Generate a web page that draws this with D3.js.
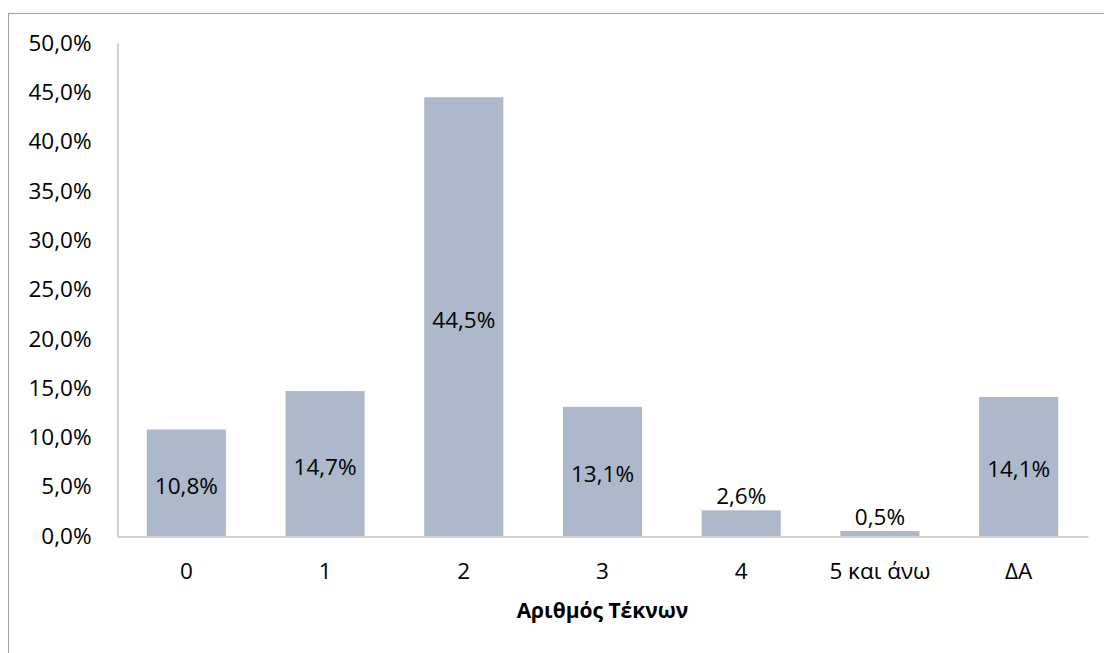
<!DOCTYPE html>
<html>
<head>
<meta charset="utf-8">
<script src="https://cdn.jsdelivr.net/npm/d3@7"></script>
<style>
  html, body { margin: 0; padding: 0; background: #ffffff; }
  svg { display: block; }
  text { font-family: "Open Sans", "Noto Sans", sans-serif; fill: #000; }
</style>
</head>
<body>
<svg id="chart" width="1104" height="653"></svg>
<script>
// Share of respondents by number of children (percent)
const categories = ["0", "1", "2", "3", "4", "5 και άνω", "ΔΑ"];
const values = [10.8, 14.7, 44.5, 13.1, 2.6, 0.5, 14.1];
const yTicks = [0, 5, 10, 15, 20, 25, 30, 35, 40, 45, 50];
const xTitle = "Αριθμός Τέκνων";

const fmt = v => d3.format(".1f")(v).replace(".", ",") + "%";

const svg = d3.select("#chart");
const W = 1104, H = 653;
const plot = { left: 117, right: 1088, top: 43, bottom: 536 };
const FS = 22.5;

// outer chart frame (continues past the right and bottom edges)
svg.append("rect")
  .attr("x", 8.5).attr("y", 13.5)
  .attr("width", W + 20).attr("height", H + 20)
  .attr("fill", "none").attr("stroke", "#a0a0a0").attr("stroke-width", 1);

const x = d3.scaleBand()
  .domain(categories)
  .range([plot.left, plot.right])
  .paddingInner(0.43).paddingOuter(0.215);

const y = d3.scaleLinear().domain([0, 50]).range([plot.bottom, plot.top]);

// bars
svg.append("g").selectAll("rect")
  .data(categories)
  .join("rect")
  .attr("x", d => x(d))
  .attr("width", x.bandwidth())
  .attr("y", (d, i) => y(values[i]))
  .attr("height", (d, i) => y(0) - y(values[i]))
  .attr("fill", "#adb9cb");

// y axis
const yAxis = svg.append("g")
  .attr("transform", `translate(${plot.left + 0.5},0)`)
  .call(d3.axisLeft(y).tickValues(yTicks).tickSize(0).tickPadding(26).tickFormat(fmt));
yAxis.select(".domain").attr("stroke", "#a6a6a6");
yAxis.selectAll("text").attr("font-size", FS).attr("font-family", "'Open Sans', sans-serif").attr("fill", "#000");

// x axis
const xAxis = svg.append("g")
  .attr("transform", `translate(0,${plot.bottom + 0.5})`)
  .call(d3.axisBottom(x).tickSize(0).tickPadding(27));
xAxis.select(".domain").attr("stroke", "#a6a6a6");
xAxis.selectAll("text").attr("font-size", FS).attr("font-family", "'Open Sans', sans-serif").attr("fill", "#000");

// value labels: centred in tall bars, above short ones
svg.append("g").selectAll("text")
  .data(categories)
  .join("text")
  .attr("x", d => x(d) + x.bandwidth() / 2)
  .attr("y", (d, i) => {
    const top = y(values[i]);
    if (plot.bottom - top < 40) return top - 6;
    return (top + plot.bottom) / 2 + 11;
  })
  .attr("text-anchor", "middle")
  .attr("font-size", FS)
  .text((d, i) => fmt(values[i]));

// axis title
svg.append("text")
  .attr("x", (plot.left + plot.right) / 2)
  .attr("y", 618)
  .attr("text-anchor", "middle")
  .attr("font-size", 21)
  .attr("font-weight", "bold")
  .text(xTitle);
</script>
</body>
</html>
